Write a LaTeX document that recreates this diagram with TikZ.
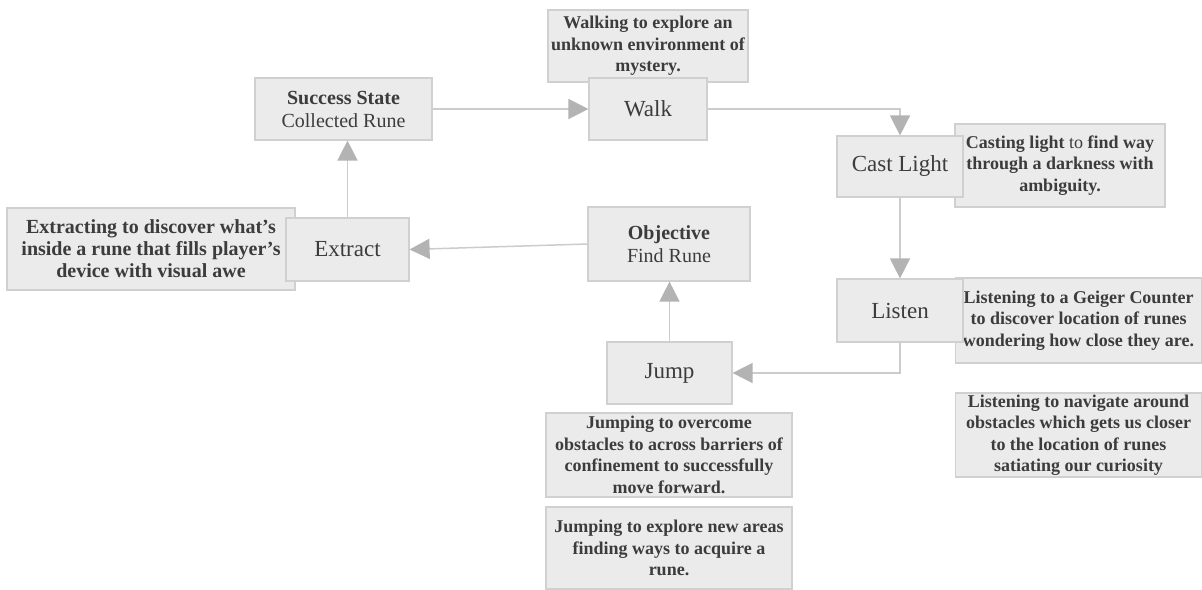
\documentclass[tikz,border=0pt]{standalone}
\usepackage{fontspec}
\setmainfont{Liberation Serif}
\usetikzlibrary{arrows.meta}
\definecolor{boxfill}{HTML}{EBEBEB}
\definecolor{boxline}{HTML}{D0D0D0}
\definecolor{linec}{HTML}{CCCCCC}
\definecolor{tipc}{HTML}{B3B3B3}
\definecolor{txt}{HTML}{3C3C3C}
\begin{document}
\begin{tikzpicture}[x=1pt,y=-1pt,
 box/.style={draw=boxline, fill=boxfill, line width=1.2pt, inner sep=0pt, text=txt, align=center},
 lbl/.style={box, font=\fontsize{23}{25}\selectfont},
 lbltwo/.style={box, font=\fontsize{20}{23}\selectfont},
 desc/.style={box, font=\fontsize{18}{21.5}\selectfont\bfseries},
 conn/.style={draw=linec, line width=1.5pt},
 arr/.style={conn, -{Triangle[length=20pt,width=20pt,color=tipc]}}]
\useasboundingbox (0,0) rectangle (1202,589);
\fill[white] (0,0) rectangle (1202,589);

% description boxes
\node[desc, minimum width=200pt, minimum height=72pt] (walkd) at (648,46)
  {Walking to explore an\\unknown environment of\\mystery.};
\node[desc, minimum width=210pt, minimum height=83pt] (castd) at (1060,165.5)
  {Casting light {\mdseries to} find way\\through a darkness with\\ambiguity.};
\node[desc, minimum width=246pt, minimum height=85pt] (listd1) at (1078.5,320.5)
  {Listening to a Geiger Counter\\to discover location of runes\\wondering how close they are.};
\node[desc, minimum width=246pt, minimum height=84pt] (listd2) at (1078.5,435)
  {Listening to navigate around\\obstacles which gets us closer\\to the location of runes\\satiating our curiosity};
\node[desc, minimum width=246pt, minimum height=84pt] (jumpd1) at (669,455)
  {Jumping to overcome\\obstacles to across barriers of\\confinement to successfully\\move forward.};
\node[desc, minimum width=246pt, minimum height=82pt] (jumpd2) at (669,548)
  {Jumping to explore new areas\\finding ways to acquire a\\rune.};
\node[desc, font=\fontsize{20}{22}\selectfont\bfseries, minimum width=288pt, minimum height=82pt] (extd) at (151,249)
  {Extracting to discover what’s\\inside a rune that fills player’s\\device with visual awe};

% main boxes
\node[lbltwo, minimum width=177pt, minimum height=62pt] (success) at (343.5,109)
  {\textbf{Success State}\\Collected Rune};
\node[lbl, minimum width=118pt, minimum height=62pt] (walk) at (648,109) {Walk};
\node[lbl, minimum width=126pt, minimum height=61pt] (cast) at (900,166.5) {Cast Light};
\node[lbl, minimum width=126pt, minimum height=63pt] (listen) at (900,310.5) {Listen};
\node[lbltwo, minimum width=162pt, minimum height=74pt] (objective) at (669,244)
  {\textbf{Objective}\\Find Rune};
\node[lbl, minimum width=125pt, minimum height=62pt] (jump) at (669.5,373) {Jump};
\node[lbl, minimum width=123pt, minimum height=63pt] (extract) at (347.5,249.5) {Extract};

% connectors
\draw[arr] (success.east) -- (walk.west);
\draw[arr] (walk.east) -| (cast.north);
\draw[arr] (cast.south) -- (listen.north);
\draw[arr] (listen.south) |- (jump.east);
\draw[arr] (jump.north) -- (jump.north |- objective.south);
\draw[arr] (objective.west) -- (extract.east);
\draw[arr] (extract.north) -- (extract.north |- success.south);
\end{tikzpicture}
\end{document}
